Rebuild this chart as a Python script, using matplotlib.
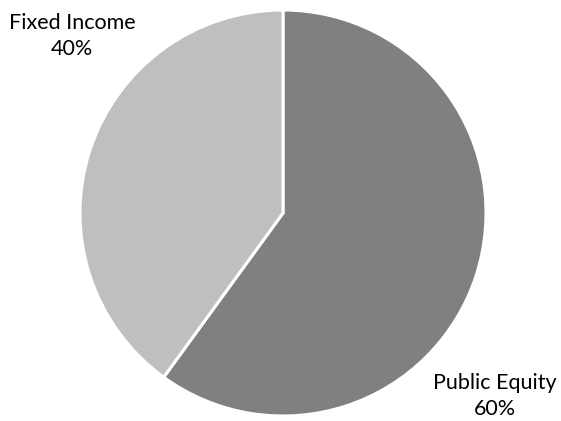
import matplotlib
matplotlib.use("Agg")
import matplotlib.pyplot as plt

labels = ["Public Equity", "Fixed Income"]
shares = [60, 40]
colors = ["#808080", "#bfbfbf"]

W, H = 561, 421
fig = plt.figure(figsize=(W / 100, H / 100), dpi=100)

# pie centre ~ (283, 213) px, radius ~203 px
cx, cy, r = 283, 213, 203
ax = fig.add_axes([(cx - r) / W, (H - cy - r) / H, 2 * r / W, 2 * r / H])
ax.pie(shares, colors=colors, startangle=90, counterclock=False, radius=1,
       wedgeprops=dict(edgecolor="white", linewidth=2.2))
ax.set_xlim(-1, 1)
ax.set_ylim(-1, 1)
ax.set_aspect("auto")
ax.axis("off")

font = dict(family=["Lato", "DejaVu Sans"], fontsize=15.5, color="#000000",
            ha="center", va="center", linespacing=1.35)
fig.text(72 / W, 1 - 36 / H, f"{labels[1]}\n{shares[1]}%", **font)
fig.text(495 / W, 1 - 396 / H, f"{labels[0]}\n{shares[0]}%", **font)

fig.savefig("out.png", dpi=100, facecolor="white")
